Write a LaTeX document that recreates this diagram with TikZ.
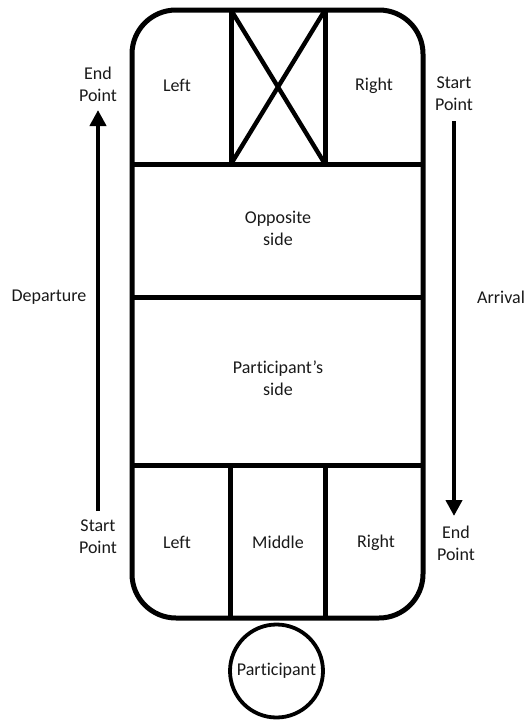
\documentclass[tikz,border=0pt]{standalone}
\usepackage{fontspec}
\setmainfont{Carlito}[Ligatures=NoCommon]
\usetikzlibrary{arrows.meta}
\begin{document}
\begin{tikzpicture}[x=1pt,y=-1pt,
  wall/.style={line width=5pt,line join=miter},
  lbl/.style={font=\fontsize{18}{22}\selectfont,text=black!90,align=center,inner sep=0pt},
  flow/.style={line width=4.2pt,-{Triangle[width=16pt,length=16pt]}}]
\useasboundingbox (0,0) rectangle (526,720);
% outer frame
\draw[wall,rounded corners=44pt] (132,10) rectangle (423,618);
% horizontal dividers
\draw[wall] (132,164) -- (423,164);
\draw[wall] (132,297) -- (423,297);
\draw[wall] (132,465) -- (423,465);
% top verticals and cross
\draw[wall] (231,10) -- (231,164);
\draw[wall] (325,10) -- (325,164);
\draw[line width=4.4pt] (231,10) -- (325,164);
\draw[line width=4.4pt] (325,10) -- (231,164);
% bottom verticals
\draw[wall] (230,465) -- (230,618);
\draw[wall] (325,465) -- (325,618);
% participant
\node[draw,circle,line width=3.8pt,minimum size=93pt,inner sep=0pt] (part) at (276.5,671) {};
\node[lbl] (partl) at (276.5,671) {Participant};
% cell labels
\node[lbl] (tl) at (177,85) {Left};
\node[lbl] (tr) at (374,86) {Right};
\node[lbl] (opp) at (278,228) {Opposite\\side};
\node[lbl] (ps) at (278,378) {Participant’s\\side};
\node[lbl] (bl) at (177,542) {Left};
\node[lbl] (bm) at (278,542) {Middle};
\node[lbl] (br) at (376,543) {Right};
% side labels
\node[lbl] (lend) at (98,84) {End\\Point};
\node[lbl] (lstart) at (98,537) {Start\\Point};
\node[lbl] (dep) at (49,297) {Departure};
\node[lbl] (rstart) at (454,94) {Start\\Point};
\node[lbl] (rend) at (456,543) {End\\Point};
\node[lbl] (arr) at (501,297) {Arrival};
% arrows
\coordinate (la0) at (98,511);
\coordinate (la1) at (98,110);
\coordinate (ra0) at (454,121);
\coordinate (ra1) at (454,516);
\draw[flow] (la0) -- (la1);
\draw[flow] (ra0) -- (ra1);
\end{tikzpicture}
\end{document}
